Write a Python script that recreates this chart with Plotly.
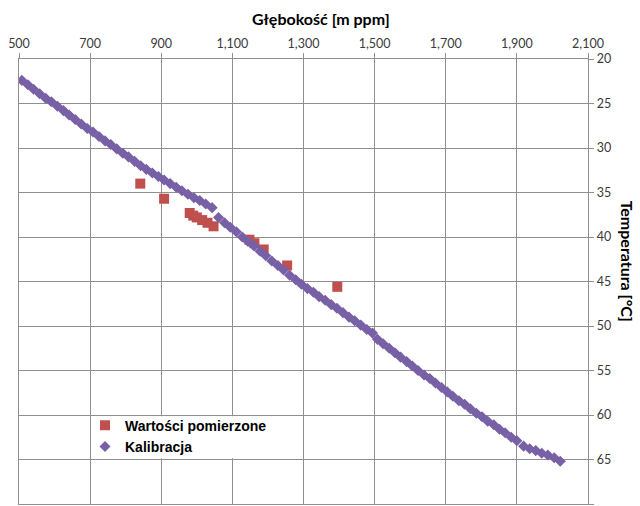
import plotly.graph_objects as go

# Measured values (red squares)
meas_depth = [841, 908, 980, 990, 1000, 1015, 1030, 1047, 1148, 1162, 1188, 1254, 1395]
meas_temp = [34.0, 35.7, 37.3, 37.6, 37.8, 38.1, 38.4, 38.8, 40.3, 40.7, 41.4, 43.2, 45.6]

# Calibration values (purple diamonds)
cal_depth = [508, 525, 541, 558, 575, 591, 608, 625, 641, 658, 675, 692, 708, 725, 742, 758,
             775, 792, 808, 825, 842, 858, 875, 892, 908, 925, 942, 958, 975, 992, 1008, 1025, 1043,
             1061, 1078, 1094, 1111, 1128, 1144, 1161, 1178, 1194, 1211, 1228, 1244, 1261, 1278,
             1294, 1311, 1328, 1344, 1361, 1378, 1394, 1411, 1428, 1444, 1461, 1478, 1494,
             1508, 1524, 1541, 1557, 1573, 1590, 1606, 1622, 1639, 1655, 1671, 1688, 1704, 1720,
             1737, 1753, 1769, 1786, 1802, 1818, 1835, 1851, 1867, 1884, 1900,
             1919, 1936, 1953, 1970, 1987, 2005, 2022]
cal_temp = [22.4, 22.9, 23.4, 23.9, 24.4, 24.8, 25.3, 25.8, 26.3, 26.8, 27.3, 27.8, 28.2, 28.7, 29.2, 29.6,
            30.1, 30.6, 31.0, 31.5, 32.0, 32.4, 32.8, 33.2, 33.6, 34.0, 34.4, 34.8, 35.2, 35.6, 35.9, 36.3, 36.7,
            37.8, 38.4, 38.9, 39.4, 40.0, 40.5, 41.0, 41.6, 42.1, 42.7, 43.2, 43.7, 44.3, 44.8,
            45.3, 45.8, 46.2, 46.7, 47.1, 47.6, 48.0, 48.5, 49.0, 49.4, 49.9, 50.4, 50.8,
            51.5, 52.0, 52.5, 53.0, 53.5, 54.0, 54.5, 55.0, 55.5, 55.9, 56.4, 56.9, 57.4, 57.9,
            58.4, 58.8, 59.3, 59.8, 60.2, 60.7, 61.1, 61.6, 62.0, 62.5, 62.9,
            63.5, 63.8, 64.0, 64.3, 64.5, 64.8, 65.2]

x_ticks = [500, 700, 900, 1100, 1300, 1500, 1700, 1900, 2100]
y_ticks = [20, 25, 30, 35, 40, 45, 50, 55, 60, 65, 70]

GRID = "#8f8f8f"
TICKFONT = dict(family="Lato, Open Sans, sans-serif", size=12.5, color="#3a3a3a")

fig = go.Figure()
fig.add_trace(go.Scatter(
    x=meas_depth, y=meas_temp, mode="markers", name="<b>Wartości pomierzone</b>",
    marker=dict(symbol="square", size=10, color="#C0504D")))
fig.add_trace(go.Scatter(
    x=cal_depth, y=cal_temp, mode="markers", name="<b>Kalibracja</b>",
    marker=dict(symbol="diamond", size=8.5, color="#7760A6")))

fig.update_layout(
    width=640, height=506,
    margin=dict(l=19, r=52, t=59, b=2),
    paper_bgcolor="white", plot_bgcolor="white",
    showlegend=True,
    legend=dict(x=0.116, y=0.212, xanchor="left", yanchor="top",
                bgcolor="rgba(0,0,0,0)",
                font=dict(family="Liberation Sans, Arial, sans-serif", size=14, color="black"),
                tracegroupgap=0),
    xaxis=dict(side="top", range=[500, 2100], tickvals=x_ticks, tickformat=",d",
               showgrid=True, gridcolor=GRID, gridwidth=1.4,
               showline=True, linecolor=GRID, linewidth=1.4, mirror=True,
               ticks="outside", ticklen=5, tickcolor=GRID, tickwidth=1.4,
               tickfont=TICKFONT, zeroline=False, automargin=False),
    yaxis=dict(side="right", range=[70, 20], tickvals=y_ticks,
               showgrid=True, gridcolor=GRID, gridwidth=1.4,
               showline=True, linecolor=GRID, linewidth=1.4, mirror=True,
               ticks="outside", ticklen=5, tickcolor=GRID, tickwidth=1.4,
               tickfont=TICKFONT, zeroline=False, automargin=False),
    shapes=[dict(type="rect", xref="x", yref="y", x0=706, x1=1294, y0=60.15, y1=64.85,
                 fillcolor="white", line=dict(width=0), layer="between")],
    annotations=[
        dict(text="<b>Głębokość [m ppm]</b>", xref="paper", yref="paper",
             x=0.531, y=1.092, xanchor="center", yanchor="middle", showarrow=False,
             font=dict(family="Lato, Open Sans, sans-serif", size=16, color="black")),
        dict(text="<b>Temperatura [°C]</b>", xref="paper", yref="paper",
             x=1.070, y=0.545, xanchor="center", yanchor="middle", showarrow=False,
             textangle=90,
             font=dict(family="Lato, Open Sans, sans-serif", size=16, color="black")),
    ],
)

fig.write_html("out.html", config={"displayModeBar": False},
               post_script="document.body.style.margin='0';")
